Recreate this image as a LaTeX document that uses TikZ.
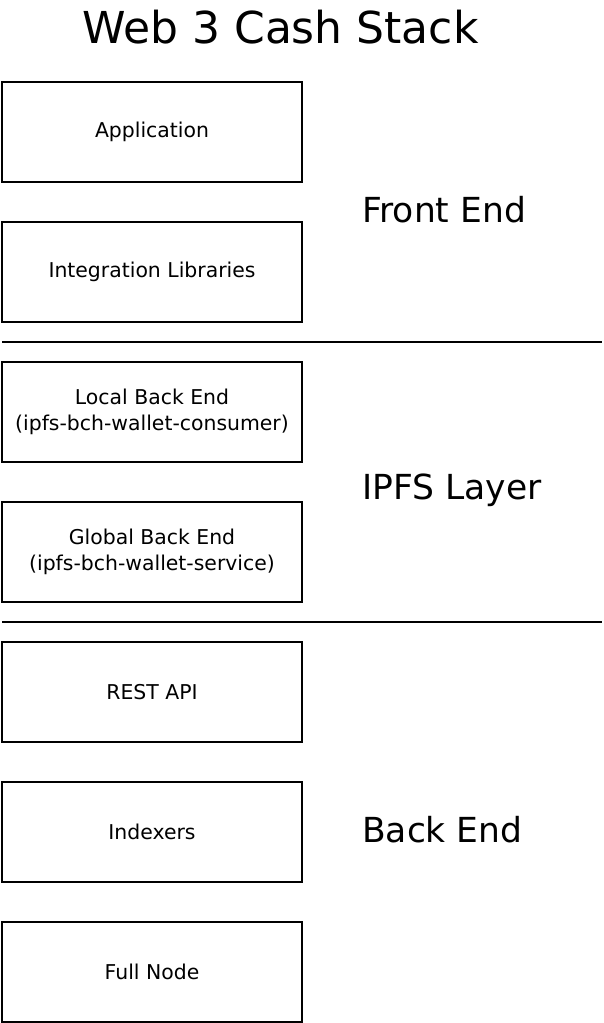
\documentclass[tikz,border=0pt]{standalone}
\usepackage{fontspec}
\setmainfont{DejaVu Sans}
\begin{document}
\begin{tikzpicture}[x=1pt,y=-1pt,
  layer/.style={draw=black,line width=1.5pt,minimum width=300pt,minimum height=100pt,anchor=north west,inner sep=0pt,outer sep=0pt,align=center,font=\fontsize{20.4}{26}\selectfont},
  sect/.style={anchor=west,inner sep=0pt,font=\fontsize{34.5}{40}\selectfont},
  sep/.style={line width=1.5pt}]
\useasboundingbox (0,0) rectangle (603,1023);
\node[font=\fontsize{44}{50}\selectfont,inner sep=0pt] (title) at (280.5,27) {Web 3 Cash Stack};
\node[layer] (app) at (2,82) {Application};
\node[layer] (lib) at (2,222) {Integration Libraries};
\node[layer] (local) at (2,362) {Local Back End\\(ipfs-bch-wallet-consumer)};
\node[layer] (global) at (2,502) {Global Back End\\(ipfs-bch-wallet-service)};
\node[layer] (rest) at (2,642) {REST API};
\node[layer] (idx) at (2,782) {Indexers};
\node[layer] (full) at (2,922) {Full Node};
\node[sect] (fe) at (362,210) {Front End};
\node[sect] (ipfs) at (362,490) {IPFS Layer};
\node[sect] (be) at (362,830) {Back End};
\coordinate (l1a) at (2,342); \coordinate (l1b) at (602,342);
\coordinate (l2a) at (2,622); \coordinate (l2b) at (602,622);
\draw[sep] (l1a) -- (l1b);
\draw[sep] (l2a) -- (l2b);
\end{tikzpicture}
\end{document}
